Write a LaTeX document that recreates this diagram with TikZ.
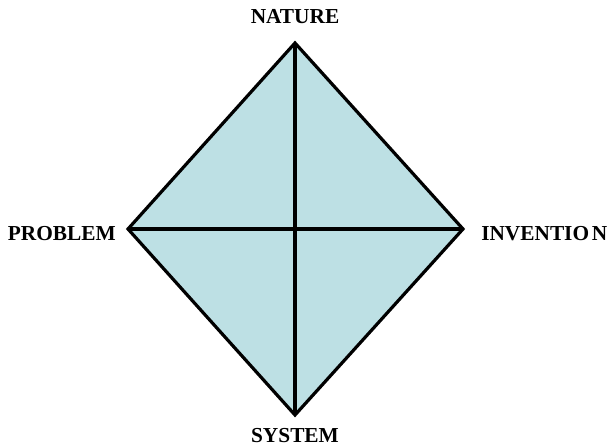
\documentclass[tikz,border=0pt]{standalone}
\usepackage{fontspec}
\setmainfont{Liberation Serif}
\usepackage{xcolor}
\usepackage{tikz}
\usetikzlibrary{positioning}
\definecolor{paleblue}{RGB}{189,224,228}

\begin{document}
\begin{tikzpicture}[x=0.75pt, y=-0.75pt]
        \tikzstyle{corner} = [font=\bfseries\fontsize{16}{19}\selectfont, inner sep=0pt]
        \tikzstyle{edge} = [line width=2.4pt, line join=miter]

        \useasboundingbox (0,0) rectangle (611,445);

        \coordinate (top) at (295,43);
        \coordinate (left) at (128,229);
        \coordinate (right) at (463,229);
        \coordinate (bottom) at (295,415);

        \filldraw [edge, fill=paleblue] (top) -- (right) -- (bottom) -- (left) -- cycle;
        \draw [edge] (top) -- (bottom);
        \draw [edge] (left) -- (right);

        \node [corner, above=14.5pt of top] (nature) {NATURE};
        \node [corner, left=9pt of left, yshift=-3.5pt] (problem) {PROBLEM};
        \node [corner, right=13.5pt of right, yshift=-3.5pt] (invention) {INVENTIO\kern2pt N};
        \node [corner, below=9.5pt of bottom] (system) {SYSTEM};
    \end{tikzpicture}
\end{document}
